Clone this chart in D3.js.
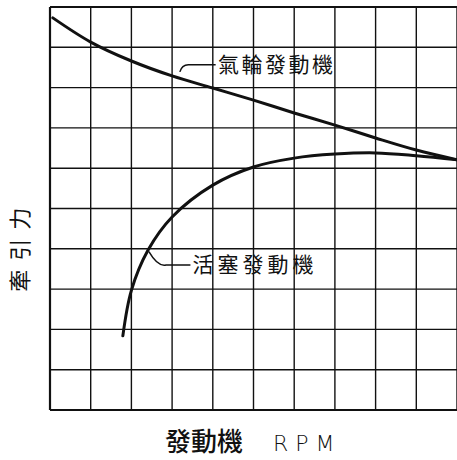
<!DOCTYPE html>
<html>
<head>
<meta charset="utf-8">
<script src="https://cdn.jsdelivr.net/npm/d3@7"></script>
<style>
  body { margin: 0; background: #fff; }
  svg { display: block; }
  text { font-family: "Noto Sans CJK TC", "Noto Sans CJK SC", sans-serif; fill: #111; }
</style>
</head>
<body>
<div id="chart"></div>
<script>
// 發動機 RPM (grid units) and 牽引力 (grid units)
const gridTicks = d3.range(0, 11)

const turbineRpm   = [0.07, 1, 2, 3, 4, 5, 6, 7, 8, 9, 10]
const turbineForce = [9.73, 9.13, 8.66, 8.29, 7.99, 7.69, 7.37, 7.07, 6.75, 6.45, 6.21]

const pistonRpm   = [1.79, 2, 2.41, 3, 4, 5, 6, 7, 8, 9, 10]
const pistonForce = [1.84, 2.97, 3.97, 4.79, 5.58, 6.03, 6.25, 6.35, 6.38, 6.31, 6.21]

const turbineLabel = '氣輪發動機'
const pistonLabel = '活塞發動機'
const xTitle = '發動機'
const xUnit = 'RPM'
const yTitle = '牽 引 力'

const width = 457, height = 460
const margin = {top: 7, left: 50, right: 0, bottom: 50}

const svg = d3.select('#chart').append('svg')
    .attr('width', width)
    .attr('height', height)

const x = d3.scaleLinear().domain([0, 10]).range([margin.left, 457])
const y = d3.scaleLinear().domain([0, 10]).range([410, margin.top])

// 格子
const grid = svg.append('g').attr('class', 'grid')
grid.selectAll('.v').data(gridTicks).join('line')
    .attr('class', 'v')
    .attr('x1', d => x(d)).attr('x2', d => x(d))
    .attr('y1', y(0)).attr('y2', y(10))
    .attr('stroke', '#111')
    .attr('stroke-width', d => d === 0 ? 2.2 : 1.4)

grid.selectAll('.h').data(gridTicks).join('line')
    .attr('class', 'h')
    .attr('x1', x(0)).attr('x2', x(10))
    .attr('y1', d => y(d)).attr('y2', d => y(d))
    .attr('stroke', '#111')
    .attr('stroke-width', d => (d === 0 || d === 10) ? 2.2 : 1.4)

// 曲線
const line = d3.line()
    .x(d => x(d[0]))
    .y(d => y(d[1]))
    .curve(d3.curveCatmullRom.alpha(0.5))

svg.append('path')
    .attr('d', line(d3.zip(turbineRpm, turbineForce)))
    .attr('fill', 'none')
    .attr('stroke', '#111')
    .attr('stroke-width', 3)
    .attr('stroke-linecap', 'round')

svg.append('path')
    .attr('d', line(d3.zip(pistonRpm, pistonForce)))
    .attr('fill', 'none')
    .attr('stroke', '#111')
    .attr('stroke-width', 3)
    .attr('stroke-linecap', 'round')

// 引出線 + 標籤
function leader(x0, y0, x1, y1, x2) {
    const p = d3.path()
    p.moveTo(x(x0), y(y0))
    p.quadraticCurveTo(x(x0) + 2, y(y1), x(x1), y(y1))
    p.lineTo(x(x2), y(y1))
    return p.toString()
}

svg.append('path')
    .attr('d', leader(3.19, 8.39, 3.4, 8.57, 4.07))
    .attr('fill', 'none').attr('stroke', '#111').attr('stroke-width', 1.5)

svg.append('text')
    .attr('x', x(4.13))
    .attr('y', y(8.57))
    .attr('dy', '0.36em')
    .attr('font-size', 21)
    .attr('letter-spacing', 2.5)
    .text(turbineLabel)

const pp = d3.path()
pp.moveTo(x(2.43), y(3.93))
pp.quadraticCurveTo(x(2.65), y(3.55), x(2.85), y(3.6))
pp.lineTo(x(3.45), y(3.6))
svg.append('path')
    .attr('d', pp.toString())
    .attr('fill', 'none').attr('stroke', '#111').attr('stroke-width', 1.5)

svg.append('text')
    .attr('x', x(3.5))
    .attr('y', y(3.6))
    .attr('dy', '0.36em')
    .attr('font-size', 21)
    .attr('letter-spacing', 4)
    .text(pistonLabel)

// 軸標題
const xt = svg.append('text')
    .attr('x', 165)
    .attr('y', 445)
    .attr('dy', '0.36em')
    .attr('text-anchor', 'start')
xt.append('tspan').attr('font-size', 26).attr('font-weight', 500).text(xTitle)
xt.append('tspan').attr('dx', 30).attr('font-size', 22)
    .attr('font-family', '"DejaVu Sans", sans-serif')
    .attr('font-weight', 300)
    .attr('letter-spacing', 7).text(xUnit)

svg.append('text')
    .attr('transform', `translate(20, ${y(4)}) rotate(-90)`)
    .attr('text-anchor', 'middle')
    .attr('dy', '0.36em')
    .attr('font-size', 22)
    .attr('letter-spacing', 2)
    .text(yTitle)
</script>
</body>
</html>
